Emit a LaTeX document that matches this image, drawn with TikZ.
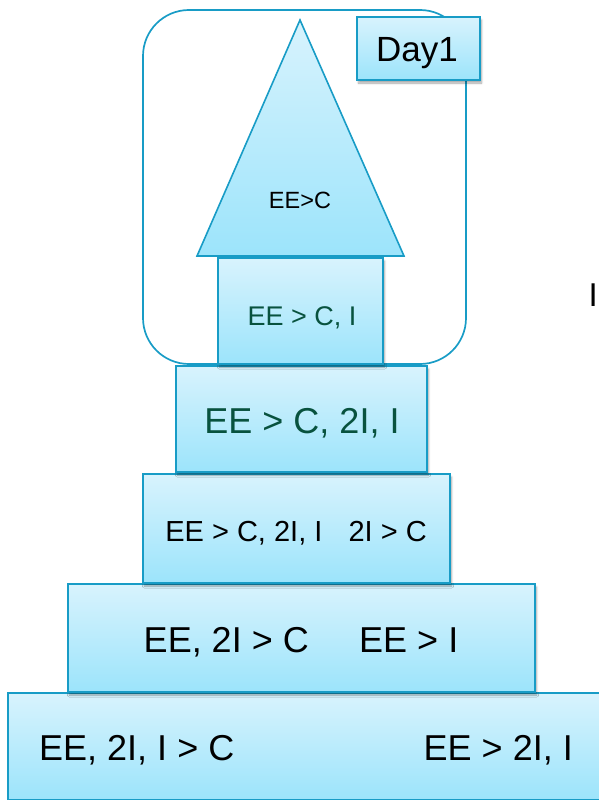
\documentclass[tikz,border=0pt]{standalone}
\usepackage{fontspec}
\setmainfont{Liberation Sans}
\usetikzlibrary{shadows.blur}
\definecolor{edgeblue}{RGB}{24,156,198}
\definecolor{topfill}{RGB}{216,243,253}
\definecolor{botfill}{RGB}{156,228,251}
\definecolor{darkgreen}{RGB}{8,82,62}
\tikzset{
  tier/.style={draw=edgeblue, line width=1.6pt, top color=topfill, bottom color=botfill,
    rectangle, inner sep=0pt,
    blur shadow={shadow xshift=1.5pt, shadow yshift=-3pt, shadow blur steps=6, shadow opacity=35}},
  frame/.style={draw=edgeblue, line width=1.7pt, rounded corners=46pt},
  lbl/.style={inner sep=0pt, text=black},
}
\newcommand{\fs}[1]{\fontsize{#1}{#1}\selectfont}
\begin{document}
\begin{tikzpicture}[x=1pt, y=-1pt]
  \useasboundingbox (0,0) rectangle (598,800);

  % rounded frame around the top of the stack
  \draw[frame] (143,10) rectangle (466,364);

  % stacked tiers, widest at the bottom
  \node[tier, minimum width=604pt, minimum height=107pt] (t5) at (310,746.5) {};
  \node[lbl, anchor=base west, font=\fs{36}] (t5a) at (39,760) {EE, 2I, I > C};
  \node[lbl, anchor=base east, font=\fs{36}] (t5b) at (573,760) {EE > 2I, I};

  \node[tier, minimum width=467pt, minimum height=108pt] (t4) at (301.5,638) {};
  \node[lbl, anchor=base, font=\fs{36}] (t4a) at (301,652) {EE, 2I > C\hspace{1.4em}EE > I};

  \node[tier, minimum width=307pt, minimum height=109pt] (t3) at (296.5,528.5) {};
  \node[lbl, anchor=base, font=\fs{29}] (t3a) at (296,541) {EE > C, 2I, I\hspace{0.9em}2I > C};

  \node[tier, minimum width=251pt, minimum height=106pt] (t2) at (301.5,419) {};
  \node[lbl, anchor=base, font=\fs{36}, text=darkgreen] (t2a) at (302,433) {EE > C, 2I, I};

  \node[tier, minimum width=165pt, minimum height=106pt] (t1) at (300.5,311) {};
  \node[lbl, anchor=base, font=\fs{27}, text=darkgreen] (t1a) at (302,325) {EE > C, I};

  % roof
  \coordinate (apex) at (300,20);
  \coordinate (bl) at (197,256);
  \coordinate (br) at (404,256);
  \path[draw=edgeblue, line width=1.6pt, line join=miter, top color=topfill, bottom color=botfill]
    (apex) -- (br) -- (bl) -- cycle;
  \node[lbl, anchor=base, font=\fs{23.5}] (roof) at (300,208) {EE>C};

  % day tag
  \node[tier, minimum width=123pt, minimum height=63pt] (day) at (418.5,48.5) {};
  \node[lbl, anchor=base, font=\fs{35}] (daylbl) at (417,62) {Day1};

  % lone letter at the right edge
  \node[lbl, anchor=base east, font=\fs{33}] (edge) at (598,306) {I};
\end{tikzpicture}
\end{document}
